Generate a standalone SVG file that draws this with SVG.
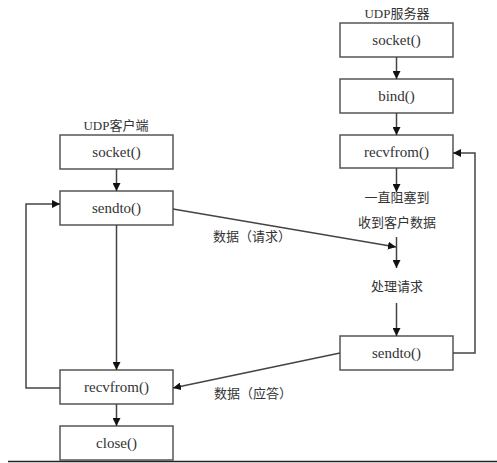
<svg xmlns="http://www.w3.org/2000/svg" width="497" height="463" viewBox="0 0 497 463">
<defs>
<style>
.box{fill:#fff;stroke:#555;stroke-width:1.5}
.t{font-family:"Liberation Serif","Noto Sans CJK SC",serif;font-size:13px;fill:#333;text-anchor:middle;dominant-baseline:central}
.f{font-size:15px}
.c{fill:none;stroke:#444;stroke-width:1.5}
</style>
<marker id="ah" viewBox="0 0 10 10" refX="10" refY="5" markerWidth="8" markerHeight="8" markerUnits="userSpaceOnUse" orient="auto">
<path d="M0,0 L10,5 L0,10 z" fill="#111"/>
</marker>
</defs>
<rect width="497" height="463" fill="#fff"/>
<line x1="8" y1="461.5" x2="497" y2="461.5" stroke="#222" stroke-width="1.5"/>
<g id="client-title"><text class="t" x="116" y="125">UDP客户端</text></g>
<g id="server-title"><text class="t" x="397" y="13">UDP服务器</text></g>
<g id="c-socket"><rect class="box" x="60" y="135" width="113" height="34"/><text class="t f" x="116.5" y="152">socket()</text></g>
<g id="c-sendto"><rect class="box" x="60" y="191" width="113" height="34"/><text class="t f" x="116.5" y="208">sendto()</text></g>
<g id="c-recvfrom"><rect class="box" x="60" y="370" width="113" height="34"/><text class="t f" x="116.5" y="387">recvfrom()</text></g>
<g id="c-close"><rect class="box" x="60" y="426" width="113" height="34"/><text class="t f" x="116.5" y="443">close()</text></g>
<g id="s-socket"><rect class="box" x="340" y="23" width="113" height="34"/><text class="t f" x="396.5" y="40">socket()</text></g>
<g id="s-bind"><rect class="box" x="340" y="79" width="113" height="34"/><text class="t f" x="396.5" y="96">bind()</text></g>
<g id="s-recvfrom"><rect class="box" x="340" y="135" width="113" height="33"/><text class="t f" x="396.5" y="152">recvfrom()</text></g>
<g id="s-block"><text class="t" x="397" y="197">一直阻塞到</text><text class="t" x="397" y="222">收到客户数据</text></g>
<g id="s-process"><text class="t" x="397" y="286">处理请求</text></g>
<g id="s-sendto"><rect class="box" x="340" y="336" width="113" height="34"/><text class="t f" x="396.5" y="353">sendto()</text></g>
<g id="labels"><text class="t" x="252" y="236">数据（请求）</text><text class="t" x="253" y="393">数据（应答）</text></g>
<g id="connectors">
<line class="c" x1="116.5" y1="169" x2="116.5" y2="191" marker-end="url(#ah)"/>
<line class="c" x1="116.5" y1="225" x2="116.5" y2="370" marker-end="url(#ah)"/>
<line class="c" x1="116.5" y1="404" x2="116.5" y2="426" marker-end="url(#ah)"/>
<polyline class="c" points="60,388 26,388 26,204 60,204" marker-end="url(#ah)"/>
<line class="c" x1="396.5" y1="57" x2="396.5" y2="79" marker-end="url(#ah)"/>
<line class="c" x1="396.5" y1="113" x2="396.5" y2="135" marker-end="url(#ah)"/>
<line class="c" x1="396.5" y1="168" x2="396.5" y2="192" marker-end="url(#ah)"/>
<line class="c" x1="396.5" y1="237" x2="396.5" y2="268" marker-end="url(#ah)"/>
<line class="c" x1="396.5" y1="303" x2="396.5" y2="336" marker-end="url(#ah)"/>
<polyline class="c" points="453,353 475,353 475,153 453,153" marker-end="url(#ah)"/>
<line class="c" x1="173" y1="209" x2="396" y2="247" marker-end="url(#ah)"/>
<line class="c" x1="340" y1="353" x2="173" y2="388" marker-end="url(#ah)"/>
</g>
</svg>
